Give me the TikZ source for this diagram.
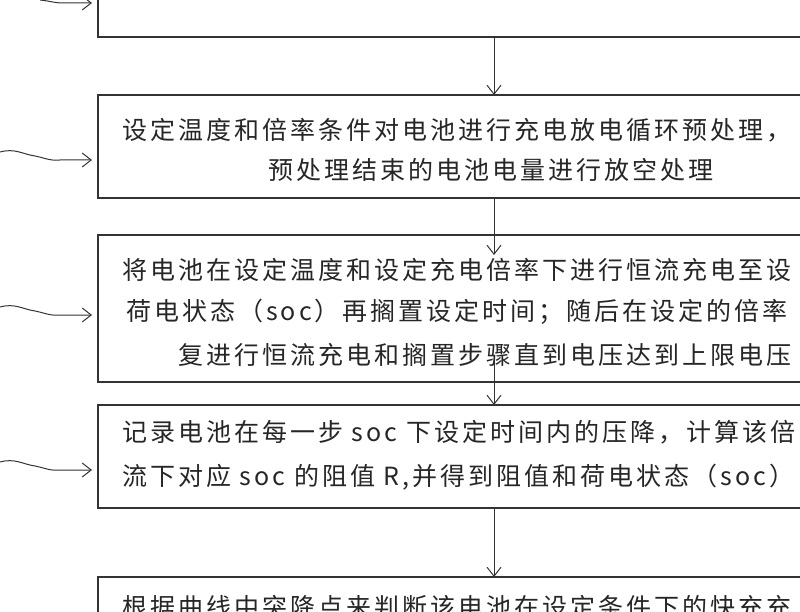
\documentclass[tikz,border=0pt]{standalone}
\usetikzlibrary{arrows.meta}
\usepackage{fontspec}
\setmainfont{Noto Sans CJK SC}[LetterSpace=12]
\begin{document}
\begin{tikzpicture}[x=1pt,y=-1pt,
  box/.style={draw=black!80,line width=1.3pt},
  txt/.style={anchor=west,inner sep=0pt,font=\fontsize{25}{28}\selectfont,text=black!85},
  arr/.style={draw=black!80,line width=1pt,-{Straight Barb[length=9pt,width=14pt]}},
  wav/.style={draw=black!80,line width=1pt,-{Straight Barb[length=9pt,width=14pt]}}]
\useasboundingbox (0,0) rectangle (800,612);
\clip (0,0) rectangle (800,612);
\draw[box] (98,-20) rectangle (900,37);
\draw[box] (98,95) rectangle (900,198);
\draw[box] (98,235) rectangle (900,382);
\draw[box] (98,405) rectangle (900,508);
\draw[box] (98,577) rectangle (900,640);
\coordinate (b1) at (494,37); \coordinate (t2) at (494,95);
\coordinate (b2) at (494,198); \coordinate (t3) at (494,255);
\coordinate (b3) at (494,360); \coordinate (t4) at (494,405);
\coordinate (b4) at (494,508); \coordinate (t5) at (494,577);
\draw[arr] (b1) -- (t2);
\draw[arr] (b2) -- (t3);
\draw[arr] (b3) -- (t4);
\draw[arr] (b4) -- (t5);
\node[txt] (l21) at (122,130) {设定温度和倍率条件对电池进行充电放电循环预处理，};
\node[txt] (l22) at (268,170) {预处理结束的电池电量进行放空处理};
\node[txt] (l31) at (122,270) {将电池在设定温度和设定充电倍率下进行恒流充电至设};
\node[txt] (l32) at (126,312) {荷电状态（soc）再搁置设定时间；随后在设定的倍率};
\node[txt] (l33) at (178,355) {复进行恒流充电和搁置步骤直到电压达到上限电压};
\node[txt] (l41) at (122,432) {记录电池在每一步 soc 下设定时间内的压降，计算该倍};
\node[txt] (l42) at (122,477) {流下对应 soc 的阻值 R,并得到阻值和荷电状态（soc）};
\node[txt] (l51) at (122,607) {根据曲线中突降点来判断该电池在设定条件下的快充充};
\foreach \y/\s in {160/0,315/0,470/0}{
  \draw[wav] (\s,\y-8) .. controls (\s+15,\y-12) and (\s+22,\y-6) .. (\s+35,\y-4)
     .. controls (\s+45,\y-2) and (\s+50,\y+1) .. (\s+60,\y) -- (92,\y);
}
\coordinate (w0) at (40,0);
\draw[wav] (w0) .. controls (50,1) and (55,3) .. (62,3) -- (92,3);
\end{tikzpicture}
\end{document}
